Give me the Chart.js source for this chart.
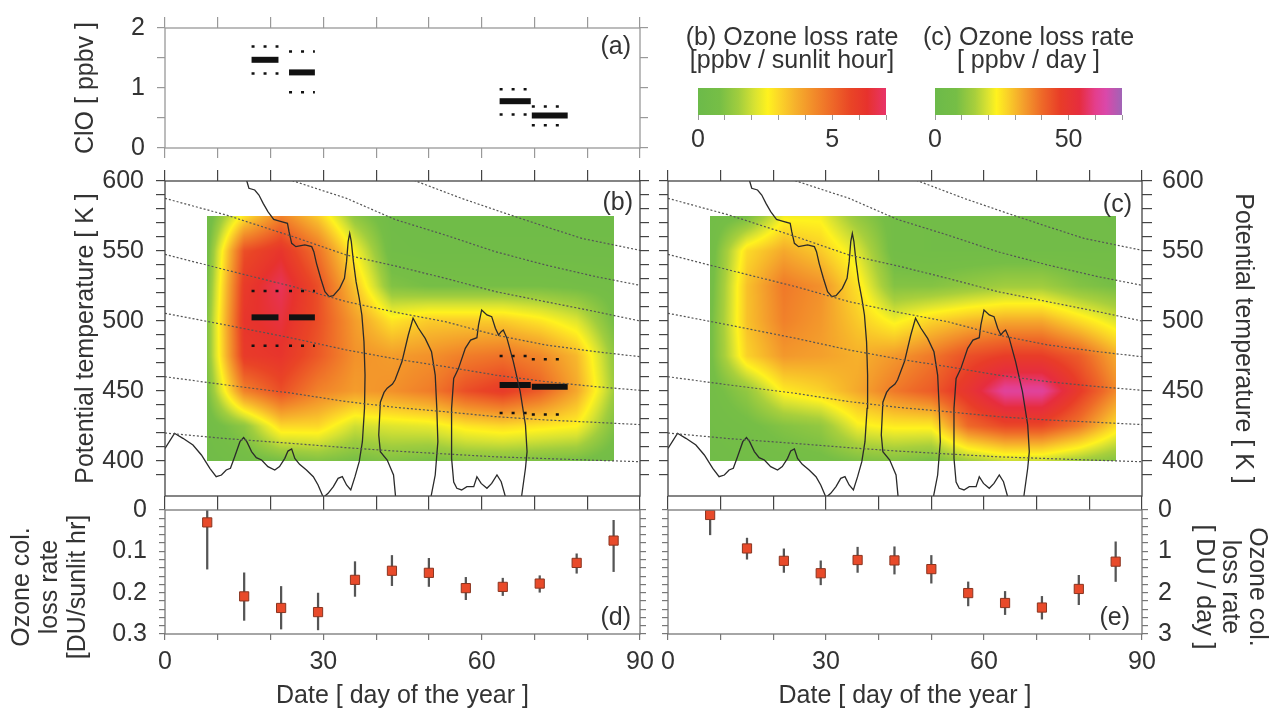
<!DOCTYPE html>
<html>
<head>
<meta charset="utf-8">
<title>Ozone loss rates</title>
<script src="https://cdn.jsdelivr.net/npm/chart.js@4.4.1/dist/chart.umd.min.js"></script>
<style>
  html, body { margin: 0; background: #fff; }
  body { position: relative; width: 1270px; height: 712px; overflow: hidden; }
  canvas { position: absolute; }
</style>
</head>
<body>
<canvas id="panelA" width="660" height="155" style="left:0;top:10px"></canvas>
<canvas id="barB" width="244" height="150" style="left:670px;top:16px"></canvas>
<canvas id="barC" width="243" height="150" style="left:907px;top:16px"></canvas>
<canvas id="panelB" width="660" height="344" style="left:0;top:166px"></canvas>
<canvas id="panelC" width="622" height="344" style="left:648px;top:166px"></canvas>
<canvas id="panelD" width="660" height="222" style="left:0;top:490px"></canvas>
<canvas id="panelE" width="622" height="222" style="left:648px;top:490px"></canvas>
<script>
// ---- values ----
const days = [8, 15, 22, 29, 36, 43, 50, 57, 64, 71, 78, 85];
const thetaLevels = [400, 425, 450, 475, 500, 525, 550, 575];

// (b) ozone loss rate [ppbv / sunlit hour], one row per theta level (400 K first)
const lossSunlit = [
  [0.4, 0.6, 0.8, 1.0, 0.8, 1.0, 0.8, 1.0, 1.0, 0.9, 0.8, 0.5],
  [0.5, 1.2, 3.0, 3.0, 2.0, 2.2, 2.3, 2.8, 3.0, 2.8, 2.6, 1.0],
  [0.8, 4.5, 5.5, 4.5, 4.0, 4.2, 4.6, 5.5, 6.0, 5.2, 3.8, 1.5],
  [1.0, 6.0, 6.2, 5.3, 4.2, 4.0, 4.2, 4.6, 4.8, 4.4, 3.5, 1.3],
  [1.0, 6.2, 6.5, 5.5, 4.0, 2.8, 3.2, 3.2, 3.2, 2.8, 2.2, 0.8],
  [0.8, 6.0, 6.8, 5.5, 3.3, 1.0, 0.8, 0.8, 0.8, 0.8, 0.7, 0.6],
  [0.6, 5.5, 6.2, 4.8, 2.5, 0.5, 0.4, 0.4, 0.4, 0.4, 0.4, 0.4],
  [0.4, 2.8, 4.5, 3.2, 1.2, 0.4, 0.3, 0.3, 0.3, 0.3, 0.3, 0.3]
];
// (c) ozone loss rate [ppbv / day]
const lossDaily = [
  [4, 5, 6, 7, 9, 10, 8, 14, 18, 18, 14, 10],
  [5, 7, 10, 12, 22, 24, 24, 40, 45, 45, 38, 26],
  [6, 12, 24, 27, 32, 38, 42, 50, 62, 62, 48, 36],
  [7, 27, 34, 33, 31, 34, 38, 44, 47, 47, 42, 32],
  [7, 29, 37, 34, 28, 22, 27, 30, 32, 32, 26, 20],
  [6, 29, 38, 35, 25, 10, 10, 12, 14, 14, 10, 8],
  [5, 26, 32, 28, 20, 6, 5, 5, 5, 5, 5, 5],
  [5, 8, 22, 22, 12, 6, 5, 5, 5, 5, 5, 4]
];

// (d) and (e) column loss rates with error bar ends
const colSunlit = [0.030, 0.209, 0.237, 0.247, 0.169, 0.147, 0.152, 0.189, 0.186, 0.178, 0.128, 0.074];
const colSunlitLow = [0, 0.152, 0.185, 0.201, 0.125, 0.110, 0.117, 0.163, 0.165, 0.159, 0.106, 0.025];
const colSunlitHigh = [0.143, 0.267, 0.288, 0.290, 0.209, 0.183, 0.185, 0.217, 0.207, 0.199, 0.153, 0.149];
const colDaily = [0.12, 0.93, 1.23, 1.53, 1.21, 1.22, 1.43, 2.01, 2.25, 2.36, 1.91, 1.25];
const colDailyLow = [0, 0.68, 0.94, 1.23, 0.90, 0.89, 1.10, 1.74, 1.97, 2.09, 1.58, 0.77];
const colDailyHigh = [0.60, 1.19, 1.51, 1.81, 1.51, 1.55, 1.77, 2.32, 2.53, 2.64, 2.29, 1.73];

// (a) ClO averages over four periods, and their theta range in (b)
const cloStart = [16.4, 23.5, 63.4, 69.5];
const cloEnd = [21.5, 28.4, 69.3, 76.3];
const cloMean = [1.47, 1.26, 0.78, 0.54];
const cloHigh = [1.69, 1.61, 0.98, 0.69];
const cloLow = [1.24, 0.93, 0.56, 0.38];
const cloTheta = [502.6, 502.6, 454.3, 453.1];
const cloThetaHigh = [521.4, 521.4, 475.0, 472.6];
const cloThetaLow = [482.4, 482.4, 434.3, 433.3];

// solid contour, [day, theta K]
const edgeWest = [[0,409],[1.8,419.8],[3.4,416.2],[5.3,411.4],[6.9,404.3],[8.5,394.8],[9.7,388.8],[10.7,390],
  [11.6,393.6],[12.4,394.8],[13.2,403.1],[14.2,413.8],[14.9,416.7],[15.5,413.8],[16.4,406.7],[17.3,402.4],
  [18.3,400.7],[19.5,396],[20.8,393.6],[21.7,396],[22.7,401.9],[23.3,407.1],[24,408.6],[24.6,401.9],
  [25.5,397.6],[26.8,393.6],[28.1,388.8],[29,382.9],[30,374],[30.9,376.9],[31.9,381.7],[32.8,387.6],
  [33.6,388.8],[34.4,382.9],[35.2,379.3],[36,388.8],[36.8,399.5],[37.4,413.8],[37.8,437.6],[37.9,461.4],
  [37.7,485.2],[37.3,504.3],[36.8,516.2],[36.2,528.1],[35.7,542.4],[35.3,556.7],[35,562.6],[34.7,556.7],
  [34.4,542.4],[34,530.5],[33.1,523.3],[31.9,518.1],[31.1,517.4],[30.3,521],[29.5,530.5],[28.7,541.2],
  [28.2,549.5],[27.8,553.1],[26.5,554.3],[24.8,553.1],[24,555.5],[23.5,563.8],[23.2,569.8],[21.7,571.4],
  [20.6,572.6],[19.5,578.1],[18.6,584],[17.8,590],[17,593.6],[15.9,594.8],[15.5,600],[15.3,604]];
const edgeMid = [[43.8,370],[43.3,390],[42.1,400.7],[40.8,406.7],[40.5,418.6],[40.8,442],[41.5,449],[42.1,452],
  [43.1,455],[43.6,458],[44.9,471],[46.1,490],[47,502],[48,495],[49.3,487.6],[50.5,478],[51.2,461.4],
  [51.5,437.6],[51.7,413.8],[51.2,390],[50.4,374.5],[50.2,370]];
const edgeEast = [[64.6,370],[64.5,374.5],[63.7,385.2],[62.9,390],[61.9,384],[61,380.5],[59.9,384],[59.1,388.8],
  [58.5,381.7],[57.2,381.7],[56.2,379.3],[55.3,380.5],[54.7,385],[54.3,401.9],[54.3,437.6],[54.7,459],
  [55.6,466],[56.9,480.5],[57.9,486.4],[59.1,488.1],[59.4,497.1],[60,507.9],[61,504.3],[61.9,503.1],
  [62.6,494.8],[63.2,490],[63.7,492.4],[64.1,493.6],[64.8,487.6],[66,471],[67.3,449.5],[68.3,425.7],
  [68.6,406.7],[68.3,394.8],[67.6,375.7],[67.4,370]];

// dotted descent lines, [day, theta K]
const descent550 = [[46.5,602],[47.5,600],[56.2,587.6],[64.5,576.9],[72.1,567.4],[79,559],[90,550.5]];
const descent525 = [[23.5,602],[24.3,600],[34.4,587.6],[43.6,572.5],[53.1,561.4],[62.6,549.5],[72.1,540],[81.6,531.7],[90,525.5]];
const descent500 = [[0,587.6],[11.6,575.7],[24.3,560.2],[34.4,547.1],[44,539],[53.1,530.5],[62.6,521],[72.1,513.8],[81.6,506.7],[90,500]];
const descent475 = [[0,547.6],[11.6,536.4],[24.3,524.5],[34.4,513.8],[44,506],[53.1,499.5],[62.6,490],[72.1,482.9],[81.6,478.1],[90,474.5]];
const descent450 = [[0,505.5],[11.6,497.1],[24.3,487.6],[34.4,479.3],[44,472.7],[53.1,467.4],[62.6,461.4],[72.1,456.7],[81.6,453.1],[90,450.5]];
const descent425 = [[0,460.2],[11.6,454.3],[24.3,448.3],[34.4,442.4],[44,438.2],[53.1,435.2],[62.6,431.7],[72.1,429.3],[81.6,427.6],[90,426]];
const descent400 = [[0,420],[11.6,416],[24.3,412.5],[34.4,409.5],[44,407],[62.6,403],[81.6,400.5],[90,399.5]];

// colour scales
const cmapSunlit = [[0,[108,186,74]],[0.8,[118,190,70]],[1.5,[160,205,62]],[2.1,[215,226,50]],[2.6,[255,242,30]],
  [3.0,[252,215,40]],[3.6,[246,178,44]],[4.3,[242,140,42]],[5.0,[238,104,40]],[5.7,[233,68,38]],[6.3,[231,50,45]],[7.0,[232,52,105]]];
const cmapDaily = [[0,[108,186,74]],[8,[118,190,70]],[15,[168,207,60]],[20,[222,228,48]],[23,[255,242,30]],
  [27,[250,210,40]],[33,[244,160,44]],[40,[238,105,40]],[47,[232,60,40]],[54,[230,45,62]],[60,[228,62,140]],[64,[218,72,170]],[70,[160,100,182]]];

// ---- helpers ----
const FAMILY = '"Liberation Sans", Arial, Helvetica, sans-serif';
Chart.defaults.font.family = FAMILY;
Chart.defaults.font.size = 25;
Chart.defaults.color = '#333';
Chart.defaults.animation = false;
Chart.defaults.plugins.legend.display = false;
Chart.defaults.plugins.tooltip.enabled = false;

const pts = arr => arr.map(([x, y]) => ({x, y}));

function fixed(size) {
  return scale => {
    if (scale.isHorizontal()) scale.height = size; else scale.width = size;
    scale.paddingLeft = scale.paddingRight = scale.paddingTop = scale.paddingBottom = 0;
  };
}

function onSteps(step) {
  return scale => {
    scale.ticks = scale.ticks.filter(t => Math.abs(t.value / step - Math.round(t.value / step)) < 1e-6);
  };
}

function tickAxis(o) {
  const ticks = {stepSize: o.step, display: !!o.label, padding: o.padding || 8, maxRotation: 0, autoSkip: false};
  if (o.label) ticks.callback = o.label;
  return {
    type: 'linear', position: o.position, min: o.min, max: o.max, reverse: !!o.reverse, offset: false,
    ticks,
    grid: {drawOnChartArea: false, drawTicks: true, tickLength: o.tick, color: o.color, lineWidth: 1.2, offset: false},
    border: {display: false},
    title: o.title || {display: false},
    afterFit: fixed(o.size),
    afterBuildTicks: onSteps(o.step)
  };
}

const every50 = v => (v % 50 === 0 ? String(v) : '');
const every30 = v => (v % 30 === 0 ? String(v) : '');
const wholes = v => (Math.abs(v - Math.round(v)) < 1e-6 ? String(Math.round(v)) : '');
const tenths = v => (Math.abs(v * 10 - Math.round(v * 10)) < 1e-6 ? String(Math.round(v * 10) / 10) : '');

function colorFor(stops, v) {
  if (v <= stops[0][0]) return stops[0][1];
  for (let k = 1; k < stops.length; k++) {
    if (v <= stops[k][0]) {
      const [a, ca] = stops[k - 1], [b, cb] = stops[k];
      const f = (v - a) / (b - a);
      return [0, 1, 2].map(c => ca[c] + (cb[c] - ca[c]) * f);
    }
  }
  return stops[stops.length - 1][1];
}

// gouraud-style shading between the grid nodes
function shade(grid, d, t) {
  let i = 0;
  while (i < days.length - 2 && d > days[i + 1]) i++;
  let j = 0;
  while (j < thetaLevels.length - 2 && t > thetaLevels[j + 1]) j++;
  const fx = Math.min(1, Math.max(0, (d - days[i]) / (days[i + 1] - days[i])));
  const fy = Math.min(1, Math.max(0, (t - thetaLevels[j]) / (thetaLevels[j + 1] - thetaLevels[j])));
  return grid[j][i] * (1 - fx) * (1 - fy) + grid[j][i + 1] * fx * (1 - fy) +
         grid[j + 1][i] * (1 - fx) * fy + grid[j + 1][i + 1] * fx * fy;
}

function heatmap(grid, stops) {
  return {
    id: 'heatmap',
    beforeDatasetsDraw(chart) {
      const xs = chart.scales.x, ys = chart.scales.y;
      const x0 = Math.round(xs.getPixelForValue(days[0]));
      const x1 = Math.round(xs.getPixelForValue(days[days.length - 1]));
      const y0 = Math.round(ys.getPixelForValue(thetaLevels[thetaLevels.length - 1]));
      const y1 = Math.round(ys.getPixelForValue(thetaLevels[0]));
      const w = x1 - x0, h = y1 - y0;
      const img = chart.ctx.createImageData(w, h);
      for (let py = 0; py < h; py++) {
        const t = ys.getValueForPixel(y0 + py + 0.5);
        for (let px = 0; px < w; px++) {
          const d = xs.getValueForPixel(x0 + px + 0.5);
          const c = colorFor(stops, shade(grid, d, t));
          const k = (py * w + px) * 4;
          img.data[k] = c[0]; img.data[k + 1] = c[1]; img.data[k + 2] = c[2]; img.data[k + 3] = 255;
        }
      }
      chart.ctx.putImageData(img, x0, y0);
    }
  };
}

function gradientBar(stops) {
  return {
    id: 'gradientBar',
    beforeDatasetsDraw(chart) {
      const {ctx, chartArea: a} = chart;
      const xs = chart.scales.x;
      const g = ctx.createLinearGradient(xs.getPixelForValue(xs.min), 0, xs.getPixelForValue(xs.max), 0);
      stops.forEach(([v, c]) => g.addColorStop((v - xs.min) / (xs.max - xs.min), `rgb(${c[0]},${c[1]},${c[2]})`));
      ctx.save();
      ctx.fillStyle = g;
      ctx.fillRect(a.left, a.top, a.right - a.left, a.bottom - a.top);
      ctx.restore();
    }
  };
}

function frame(color, label) {
  return {
    id: 'frame',
    afterDraw(chart) {
      const {ctx, chartArea: a} = chart;
      ctx.save();
      ctx.strokeStyle = color;
      ctx.lineWidth = 1.3;
      ctx.strokeRect(a.left, a.top, a.right - a.left, a.bottom - a.top);
      if (label) {
        ctx.fillStyle = '#333';
        ctx.font = '25px ' + FAMILY;
        ctx.textAlign = 'right';
        ctx.textBaseline = 'middle';
        ctx.fillText(label.text, a.right - label.dx, label.dy > 0 ? a.top + label.dy : a.bottom + label.dy);
      }
      ctx.restore();
    }
  };
}

function sideTitle(lines, offsets, shift, rotation) {
  return {
    id: 'sideTitle',
    afterDraw(chart) {
      const {ctx, chartArea: a} = chart;
      const yc = (a.top + a.bottom) / 2 + shift;
      ctx.save();
      ctx.fillStyle = '#333';
      ctx.font = '25px ' + FAMILY;
      ctx.textAlign = 'center';
      ctx.textBaseline = 'middle';
      lines.forEach((line, k) => {
        const x = offsets[k] < 0 ? a.left + offsets[k] : a.right + offsets[k];
        ctx.save();
        ctx.translate(x, yc);
        ctx.rotate(rotation);
        ctx.fillText(line, 0, 0);
        ctx.restore();
      });
      ctx.restore();
    }
  };
}

function lineSet(arr, color, width, dash) {
  return {data: pts(arr), showLine: true, pointRadius: 0, borderColor: color, borderWidth: width,
          borderDash: dash || [], tension: 0, fill: false};
}

function cloBars(mid, hi, lo) {
  const sets = [];
  cloStart.forEach((s, i) => {
    sets.push(lineSet([[s, mid[i]], [cloEnd[i], mid[i]]], '#111', 6));
    sets.push(lineSet([[s, hi[i]], [cloEnd[i], hi[i]]], '#111', 2.5, [3, 9]));
    sets.push(lineSet([[s, lo[i]], [cloEnd[i], lo[i]]], '#111', 2.5, [3, 9]));
  });
  return sets;
}

function overlaySets() {
  const sets = [descent550, descent525, descent500, descent475, descent450, descent425, descent400]
    .map(l => lineSet(l, '#555', 1.2, [2, 2]));
  [edgeWest, edgeMid, edgeEast].forEach(l => sets.push(lineSet(l, '#2a2a2a', 1.3)));
  return sets;
}

const thetaTitle = {display: true, text: 'Potential temperature [ K ]', padding: {top: 71, bottom: 0}};

// ---- (a) ClO ----
new Chart(document.getElementById('panelA'), {
  type: 'scatter',
  data: {datasets: cloBars(cloMean, cloHigh, cloLow)},
  options: {
    responsive: false,
    scales: {
      x: tickAxis({position: 'bottom', min: 0, max: 90, step: 10, tick: 10, size: 17, color: '#999'}),
      xTop: tickAxis({position: 'top', min: 0, max: 90, step: 10, tick: 11, size: 18, color: '#999'}),
      y: tickAxis({position: 'left', min: 0, max: 2, step: 0.5, tick: 8, size: 165, color: '#999', label: wholes, padding: 12,
        title: {display: true, text: 'ClO [ ppbv ]', padding: {top: 71, bottom: 0}}}),
      yRight: tickAxis({position: 'right', min: 0, max: 2, step: 0.5, tick: 8, size: 20, color: '#999'})
    }
  },
  plugins: [frame('#999', {text: '(a)', dx: 9, dy: 19})]
});

// ---- colour bars ----
function colorbar(id, stops, max, step, shown, title) {
  const side = {position: 'left', ticks: {display: false}, grid: {display: false}, border: {display: false}, afterFit: fixed(28)};
  new Chart(document.getElementById(id), {
    type: 'scatter',
    data: {datasets: []},
    options: {
      responsive: false,
      plugins: {title: {display: true, text: title, color: '#333',
        font: {size: 25, lineHeight: 0.92, weight: 'normal'}, padding: {top: 10.5, bottom: 15.5}}},
      scales: {
        x: {type: 'linear', min: 0, max,
          ticks: {stepSize: step, padding: 5, maxRotation: 0, autoSkip: false,
            callback: v => (shown.includes(v) ? String(v) : '')},
          grid: {drawOnChartArea: false, tickLength: 5, color: '#999'},
          border: {display: false}, afterFit: fixed(51)},
        y: side,
        y2: Object.assign({}, side, {position: 'right'})
      }
    },
    plugins: [gradientBar(stops)]
  });
}
colorbar('barB', cmapSunlit, 7, 1, [0, 5], ['(b) Ozone loss rate', '[ppbv / sunlit hour]']);
colorbar('barC', cmapDaily, 70, 10, [0, 50], ['(c) Ozone loss rate', '[ ppbv / day ]']);

// ---- (b) loss rate per sunlit hour ----
new Chart(document.getElementById('panelB'), {
  type: 'scatter',
  data: {datasets: overlaySets().concat(cloBars(cloTheta, cloThetaHigh, cloThetaLow))},
  options: {
    responsive: false,
    scales: {
      x: tickAxis({position: 'bottom', min: 0, max: 90, step: 10, tick: 14, size: 14, color: '#444'}),
      xTop: tickAxis({position: 'top', min: 0, max: 90, step: 10, tick: 11, size: 15, color: '#444'}),
      y: tickAxis({position: 'left', min: 375, max: 600, step: 10, tick: 9, size: 165, color: '#444', label: every50,
        padding: 12, title: thetaTitle}),
      yRight: tickAxis({position: 'right', min: 375, max: 600, step: 10, tick: 9, size: 20, color: '#444'})
    }
  },
  plugins: [heatmap(lossSunlit, cmapSunlit), frame('#444', {text: '(b)', dx: 7, dy: 22})]
});

// ---- (c) loss rate per day ----
new Chart(document.getElementById('panelC'), {
  type: 'scatter',
  data: {datasets: overlaySets()},
  options: {
    responsive: false,
    scales: {
      x: tickAxis({position: 'bottom', min: 0, max: 90, step: 10, tick: 14, size: 14, color: '#444'}),
      xTop: tickAxis({position: 'top', min: 0, max: 90, step: 10, tick: 11, size: 15, color: '#444'}),
      yLeft: tickAxis({position: 'left', min: 375, max: 600, step: 10, tick: 9, size: 20, color: '#444'}),
      y: tickAxis({position: 'right', min: 375, max: 600, step: 10, tick: 10, size: 128, color: '#444', label: every50,
        padding: 10, title: {display: true, text: 'Potential temperature [ K ]', padding: {top: 12, bottom: 0}}})
    }
  },
  plugins: [heatmap(lossDaily, cmapDaily), frame('#444', {text: '(c)', dx: 10, dy: 24})]
});

// ---- (d), (e) column loss rates ----
function columnSets(mid, lo, hi) {
  return [
    {type: 'scatter', order: 0, data: days.map((d, i) => ({x: d, y: mid[i]})), pointStyle: 'rect', pointRadius: 6.5,
     backgroundColor: '#e84a2a', borderColor: '#8a3520', borderWidth: 1},
    {type: 'bar', order: 1, data: days.map((d, i) => ({x: d, y: [lo[i], hi[i]]})), backgroundColor: '#555',
     barThickness: 1.6, borderWidth: 0}
  ];
}
const dateTitle = {display: true, text: 'Date [ day of the year ]', padding: {top: 0, bottom: 1}};

new Chart(document.getElementById('panelD'), {
  type: 'scatter',
  data: {datasets: columnSets(colSunlit, colSunlitLow, colSunlitHigh)},
  options: {
    responsive: false,
    layout: {padding: {top: 20}},
    scales: {
      x: tickAxis({position: 'bottom', min: 0, max: 90, step: 10, tick: 6, size: 78, color: '#777', label: every30,
        padding: 7, title: dateTitle}),
      y: tickAxis({position: 'left', min: 0, max: 0.3, step: 0.02, tick: 6, size: 165, color: '#777', label: tenths,
        padding: 12, reverse: true}),
      yRight: tickAxis({position: 'right', min: 0, max: 0.3, step: 0.02, tick: 6, size: 20, color: '#777', reverse: true})
    }
  },
  plugins: [frame('#777', {text: '(d)', dx: 9, dy: -16}),
    sideTitle(['Ozone col.', 'loss rate', '[DU/sunlit hr]'], [-143, -115, -87], 15, -Math.PI / 2)]
});

new Chart(document.getElementById('panelE'), {
  type: 'scatter',
  data: {datasets: columnSets(colDaily, colDailyLow, colDailyHigh)},
  options: {
    responsive: false,
    layout: {padding: {top: 20}},
    scales: {
      x: tickAxis({position: 'bottom', min: 0, max: 90, step: 10, tick: 6, size: 78, color: '#777', label: every30,
        padding: 7, title: dateTitle}),
      yLeft: tickAxis({position: 'left', min: 0, max: 3, step: 0.2, tick: 6, size: 20, color: '#777', reverse: true}),
      y: tickAxis({position: 'right', min: 0, max: 3, step: 0.2, tick: 6, size: 128, color: '#777', label: wholes,
        padding: 10, reverse: true})
    }
  },
  plugins: [frame('#777', {text: '(e)', dx: 12, dy: -16}),
    sideTitle(['Ozone col.', 'loss rate', '[ DU / day ]'], [115, 88, 62], 15, Math.PI / 2)]
});
</script>
</body>
</html>
